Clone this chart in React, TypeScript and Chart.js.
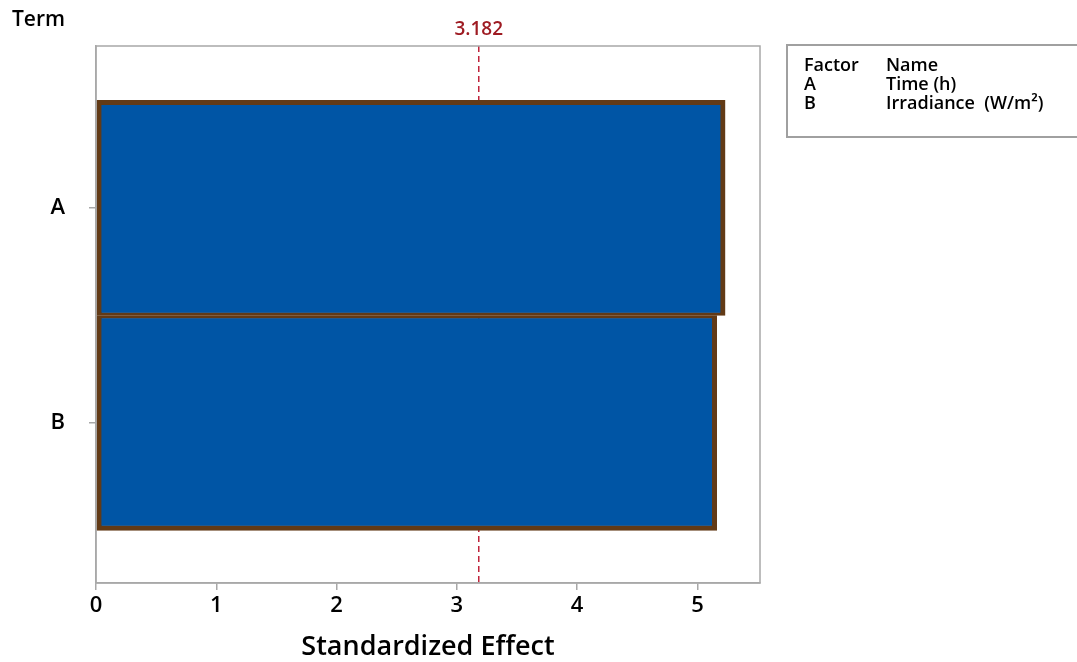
import React, { useEffect, useRef } from "react";
import { Chart, registerables } from "chart.js";

Chart.register(...registerables);

const terms = ["A", "B"];
const termIndex = [0, 1];
const effects = [5.23, 5.16];
const factorLetters = ["A", "B"];
const factorNames = ["Time (h)", "Irradiance  (W/m²)"];
const criticalValue = 3.182;
const xTicks = [0, 1, 2, 3, 4, 5];
const xMax = 5.52;
const yMin = -0.753;
const yMax = 1.744;

const FONT = "'Open Sans', 'Noto Sans', sans-serif";
const W = "600";

export default function App() {
  const ref = useRef<HTMLCanvasElement>(null);

  useEffect(() => {
    if (!ref.current) return;

    const overlay = {
      id: "overlay",
      beforeDatasetsDraw(chart: any) {
        const { ctx, chartArea: ca, scales } = chart;
        const x = scales.x.getPixelForValue(criticalValue);
        ctx.save();
        ctx.strokeStyle = "#c0223a";
        ctx.lineWidth = 1.5;
        ctx.setLineDash([6, 4]);
        ctx.beginPath();
        ctx.moveTo(x, ca.top);
        ctx.lineTo(x, ca.bottom);
        ctx.stroke();
        ctx.restore();
      },
      afterDatasetsDraw(chart: any) {
        const { ctx, chartArea: ca, scales } = chart;
        const x = scales.x.getPixelForValue(criticalValue);
        ctx.save();
        // plot frame
        ctx.strokeStyle = "#a8a8a8";
        ctx.lineWidth = 1.5;
        ctx.strokeRect(ca.left, ca.top, ca.right - ca.left, ca.bottom - ca.top);
        // critical value label
        ctx.fillStyle = "#9e1b22";
        ctx.font = `${W} 19px ${FONT}`;
        ctx.textAlign = "center";
        ctx.textBaseline = "middle";
        ctx.fillText(criticalValue.toFixed(3), x, 30);
        // y axis title
        ctx.fillStyle = "#000";
        ctx.font = `${W} 21px ${FONT}`;
        ctx.textAlign = "left";
        ctx.fillText("Term", 12, 20);
        // factor table
        ctx.strokeStyle = "#a0a0a0";
        ctx.lineWidth = 2;
        ctx.strokeRect(787, 45, 310, 92);
        ctx.font = `${W} 18px ${FONT}`;
        ctx.fillStyle = "#000";
        ctx.fillText("Factor", 804, 66);
        ctx.fillText("Name", 886, 66);
        factorLetters.forEach((f, i) => {
          const y = 85 + i * 19;
          ctx.fillText(f, 804, y);
          ctx.fillText(factorNames[i], 886, y);
        });
        ctx.restore();
      },
    };

    const chart = new Chart(ref.current, {
      type: "bar",
      data: {
        datasets: [
          {
            data: termIndex.map((t, i) => ({ x: effects[i], y: t })),
            backgroundColor: "#0055a5",
            borderColor: "#623a16",
            borderWidth: [
              { top: 5, bottom: 3, left: 5, right: 5 },
              { top: 3, bottom: 5, left: 5, right: 5 },
            ] as any,
            borderSkipped: false,
            barPercentage: 1,
            categoryPercentage: 1,
          },
        ],
      },
      options: {
        indexAxis: "y",
        animation: false,
        responsive: false,
        maintainAspectRatio: false,
        layout: { padding: { top: 46, right: 317, left: 0, bottom: 0 } },
        plugins: {
          legend: { display: false },
          tooltip: { enabled: false },
        },
        scales: {
          x: {
            type: "linear",
            min: 0,
            max: xMax,
            offset: false,
            afterBuildTicks: (s: any) => {
              s.ticks = xTicks.map((v) => ({ value: v }));
            },
            afterFit: (s: any) => {
              s.height = 79;
            },
            ticks: {
              color: "#000",
              font: { family: FONT, size: 22, weight: W },
              padding: 3,
              callback: (v: any) => String(v),
            },
            grid: {
              offset: false,
              drawOnChartArea: false,
              drawTicks: true,
              tickLength: 7,
              color: "#a8a8a8",
              lineWidth: 1.5,
            },
            border: { display: true, color: "#a8a8a8", width: 1.5 },
            title: {
              display: true,
              text: "Standardized Effect",
              color: "#000",
              font: { family: FONT, size: 27, weight: W, lineHeight: 1 },
              padding: { top: 4, bottom: 1 },
            },
          },
          y: {
            type: "linear",
            reverse: true,
            min: yMin,
            max: yMax,
            offset: false,
            afterBuildTicks: (s: any) => {
              s.ticks = termIndex.map((v) => ({ value: v }));
            },
            afterFit: (s: any) => {
              s.width = 96;
            },
            ticks: {
              color: "#000",
              font: { family: FONT, size: 22, weight: W },
              padding: 24,
              callback: (v: any) => terms[v] ?? "",
            },
            grid: {
              offset: false,
              drawOnChartArea: false,
              drawTicks: true,
              tickLength: 7,
              color: "#a8a8a8",
              lineWidth: 1.5,
            },
            border: { display: true, color: "#a8a8a8", width: 1.5 },
          },
        },
      } as any,
      plugins: [overlay],
    });

    return () => chart.destroy();
  }, []);

  return (
    <div style={{ position: "fixed", left: 0, top: 0, width: 1077, height: 662, background: "#fff" }}>
      <canvas ref={ref} width={1077} height={662} style={{ display: "block" }} />
    </div>
  );
}
